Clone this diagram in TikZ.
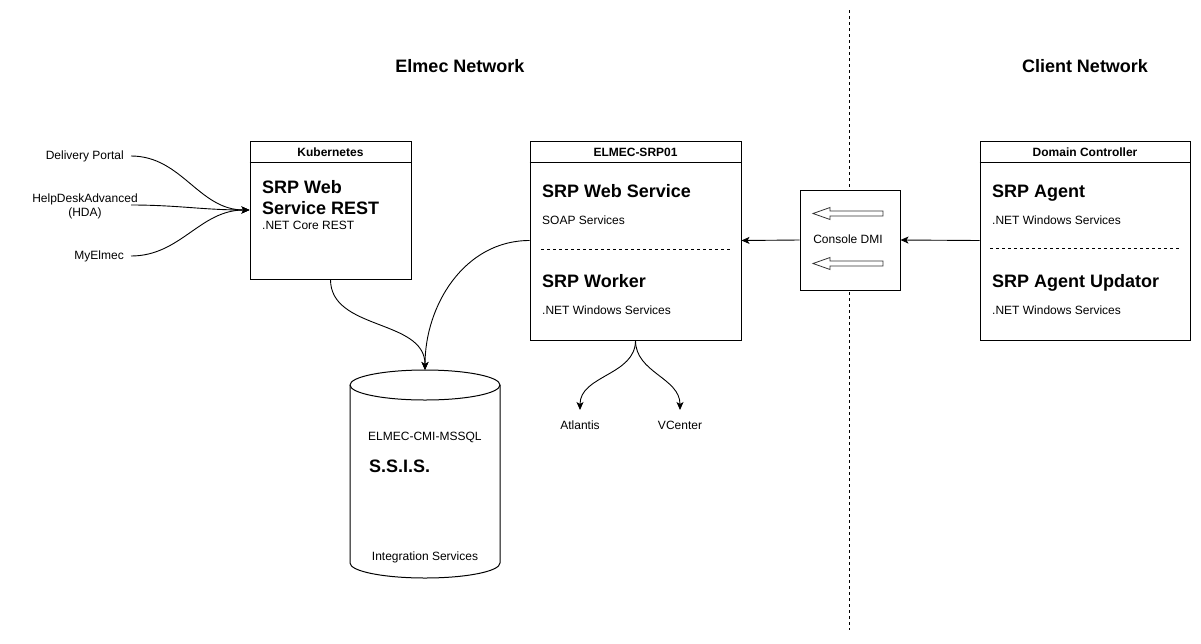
\documentclass[tikz,border=0pt]{standalone}
\usepackage{fontspec}
\setmainfont{Liberation Sans}
\usetikzlibrary{arrows.meta}
\begin{document}
\begin{tikzpicture}[x=1pt,y=-1pt,
  box/.style={draw, line width=1pt, fill=white, inner sep=0pt},
  boxline/.style={line width=1pt},
  sepline/.style={line width=0.8pt, dash pattern=on 3pt off 3pt},
  divider/.style={line width=1pt, dash pattern=on 3pt off 3pt},
  lbl/.style={font=\fontsize{12}{14}\selectfont, inner sep=0pt},
  hdr/.style={font=\bfseries\fontsize{12}{14}\selectfont, inner sep=0pt},
  big/.style={font=\bfseries\fontsize{18}{21}\selectfont, inner sep=0pt},
  ttl/.style={font=\bfseries\fontsize{18}{21}\selectfont, inner sep=0pt},
  arr/.style={-{Stealth[length=8pt,width=7pt,inset=2pt]}, line width=0.9pt},
  hollow/.style={line width=0.8pt, draw=black!80, fill=white},
]
\useasboundingbox (0,0) rectangle (1201,643);
\fill[white] (0,0) rectangle (1201,643);

% divider
\coordinate (divtop) at (849,10);
\coordinate (divbot) at (849,630);
\draw[divider] (divtop) -- (divbot);

% titles
\node[ttl, anchor=base] (t1) at (460,72) {Elmec Network};
\node[ttl, anchor=base] (t2) at (1085,72) {Client Network};

% left labels
\node[lbl, anchor=base east] (dp) at (124,159) {Delivery Portal};
\node[lbl, align=center, anchor=center] (hda) at (85,206.5) {HelpDeskAdvanced\\(HDA)};
\node[lbl, anchor=base east] (mye) at (124,259) {MyElmec};
\coordinate (dps) at (131,156);
\coordinate (hdas) at (131,205);
\coordinate (myes) at (131,256);

% Kubernetes
\node[box, minimum width=161pt, minimum height=138pt] (kube) at (330.5,210) {};
\draw[boxline] ([yshift=-22pt]kube.north west) -- ([yshift=-22pt]kube.north east);
\node[hdr, anchor=base] (kubeh) at (330.5,156) {Kubernetes};
\node[big, anchor=base west] (k1) at (262,193) {SRP Web};
\node[big, anchor=base west] (k2) at (262,214) {Service REST};
\node[lbl, anchor=base west] (k3) at (262,229) {.NET Core REST};

% ELMEC-SRP01
\node[box, minimum width=211pt, minimum height=199pt] (elmec) at (635.5,240.5) {};
\draw[boxline] ([yshift=-22pt]elmec.north west) -- ([yshift=-22pt]elmec.north east);
\node[hdr, anchor=base] (elmech) at (635.5,156) {ELMEC-SRP01};
\node[big, anchor=base west] (e1) at (542,197) {SRP Web Service};
\node[lbl, anchor=base west] (e2) at (542,224) {SOAP Services};
\coordinate (esl) at (541,249);
\coordinate (esr) at (730,249);
\draw[sepline] (esl) -- (esr);
\node[big, anchor=base west] (e3) at (542,287) {SRP Worker};
\node[lbl, anchor=base west] (e4) at (542,314) {.NET Windows Services};

% Console DMI
\node[box, minimum width=100pt, minimum height=100pt] (dmi) at (850,240) {};
\node[lbl, anchor=base] (dmit) at (848,243) {Console DMI};
\draw[hollow] (883,211) -- (830,211) -- (830,207.5) -- (813,213.5) -- (830,219.5) -- (830,216) -- (883,216) -- cycle;
\draw[hollow] (883,261) -- (830,261) -- (830,257.5) -- (813,263.5) -- (830,269.5) -- (830,266) -- (883,266) -- cycle;

% Domain Controller
\node[box, minimum width=210pt, minimum height=199pt] (dc) at (1085,240.5) {};
\draw[boxline] ([yshift=-22pt]dc.north west) -- ([yshift=-22pt]dc.north east);
\node[hdr, anchor=base] (dch) at (1085,156) {Domain Controller};
\node[big, anchor=base west] (d1) at (992,197) {SRP Agent};
\node[lbl, anchor=base west] (d2) at (992,224) {.NET Windows Services};
\coordinate (dsl) at (990,248);
\coordinate (dsr) at (1180,248);
\draw[sepline] (dsl) -- (dsr);
\node[big, anchor=base west] (d3) at (992,287) {SRP Agent Updator};
\node[lbl, anchor=base west] (d4) at (992,314) {.NET Windows Services};

% cylinder
\draw[line width=1pt, fill=white] (350,385) -- (350,563)
  arc[start angle=180, end angle=360, x radius=75pt, y radius=15pt]
  -- (500,385)
  arc[start angle=0, end angle=180, x radius=75pt, y radius=15pt] -- cycle;
\draw[line width=1pt] (350,385) arc[start angle=180, end angle=360, x radius=75pt, y radius=15pt];
\coordinate (dbtop) at (425,370);
\node[lbl, anchor=base west] (db1) at (368,440) {ELMEC-CMI-MSSQL};
\node[big, anchor=base west] (db2) at (369,472) {S.S.I.S.};
\node[lbl, anchor=base] (db3) at (425,560) {Integration Services};

% Atlantis / VCenter
\node[lbl, anchor=base] (atl) at (580,429) {Atlantis};
\node[lbl, anchor=base] (vc) at (680,429) {VCenter};
\coordinate (atlin) at (580,410);
\coordinate (vcin) at (680,410);

% connectors
\draw[arr] (dps) to[out=0,in=180] (kube.west);
\draw[arr] (hdas) to[out=0,in=180] (kube.west);
\draw[arr] (myes) to[out=0,in=180] (kube.west);
\draw[arr] (kube.south) to[out=-90,in=90] (dbtop);
\draw[arr] (elmec.west) to[out=180,in=90] (dbtop);
\draw[arr] (elmec.south) to[out=-90,in=90] (atlin);
\draw[arr] (elmec.south) to[out=-90,in=90] (vcin);
\draw[arr] (dmi.west) -- (elmec.east);
\draw[arr] (dc.west) -- (dmi.east);
\end{tikzpicture}
\end{document}
